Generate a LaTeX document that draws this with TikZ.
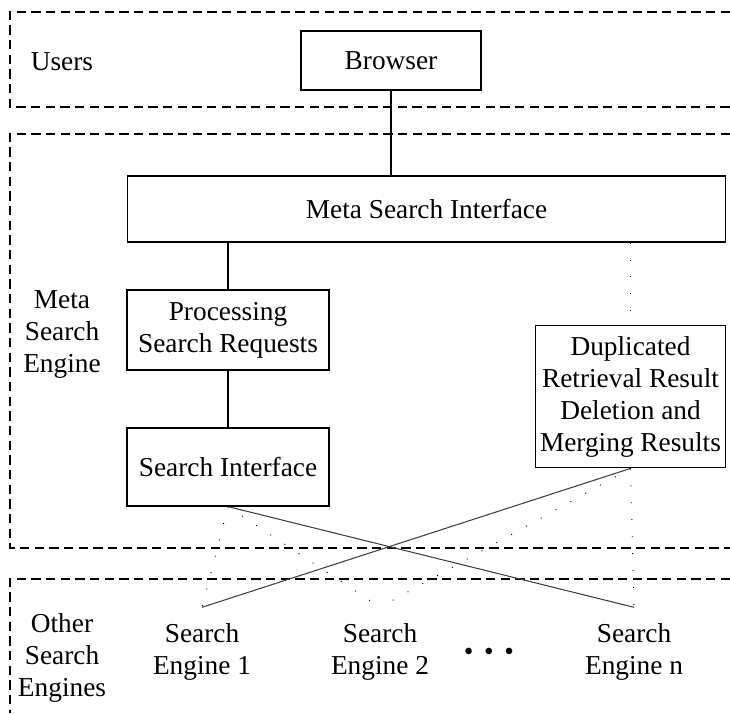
\documentclass[tikz,border=0pt]{standalone}
\usepackage{fontspec}
\setmainfont{Liberation Serif}
\begin{document}
\begin{tikzpicture}[x=0.75pt,y=-0.75pt,font=\fontsize{20.5}{24}\selectfont]
		\tikzset{box/.style = {shape=rectangle,draw,line width=0.9pt,align=center}}
		\tikzset{engine/.style = {align=center,inner ysep=12pt}}
		\tikzset{region/.style = {draw,line width=0.9pt,dash pattern=on 7pt off 4pt}}
		\tikzset{link/.style = {draw,line width=0.8pt}}
		\tikzset{hint/.style = {draw,line width=0.7pt,dash pattern=on 0.7pt off 12pt}}
		\useasboundingbox (0,0) rectangle (730,713);
		% layers
		\path[region] (730,12) -- (10,12) -- (10,107) -- (730,107);
		\path[region] (730,134) -- (10,134) -- (10,548) -- (730,548);
		\path[region] (730,579) -- (10,579) -- (10,713);
		\node (users) at (62,62) {Users};
		\node[align=center] (meta) at (62,334) {Meta\\Search\\Engine};
		\node[align=center] (other) at (62,658) {Other\\Search\\Engines};
		% boxes
		\node[box,minimum width=135pt,minimum height=44.25pt] (browser) at (391,60.5) {Browser};
		\node[box,minimum width=449pt,minimum height=49.5pt] (msi) at (426.5,209) {Meta Search Interface};
		\node[box,minimum width=151.5pt,minimum height=60pt] (psr) at (228,330) {Processing\\Search Requests};
		\node[box,minimum width=151.5pt,minimum height=58.5pt] (si) at (228,467) {Search Interface};
		\node[box,minimum width=143pt,minimum height=107pt] (dup) at (630.5,396.5) {Duplicated\\Retrieval Result\\Deletion and\\Merging Results};
		% engines
		\node[engine] (se1) at (202,652) {Search\\Engine 1};
		\node[engine] (se2) at (380,652) {Search\\Engine 2};
		\node (more) at (489,654) {\textbullet\hspace{8pt}\textbullet\hspace{8pt}\textbullet};
		\node[engine] (sen) at (634,652) {Search\\Engine n};
		% connections
		\path[link] (browser.south) -- (browser.south |- msi.north);
		\path[link] (psr.north |- msi.south) -- (psr.north);
		\path[link] (psr) -- (si);
		\path[hint] (dup.north |- msi.south) -- (dup.north);
		\path[link,draw=black!75] (si.south) -- (sen.north);
		\path[link,draw=black!75] (dup.south) -- (se1.north);
		\path[hint] (si.south) -- (se1.north);
		\path[hint] (si.south) -- (se2.north);
		\path[hint] (dup.south) -- (se2.north);
		\path[hint] (dup.south) -- (sen.north);
	\end{tikzpicture}
\end{document}
